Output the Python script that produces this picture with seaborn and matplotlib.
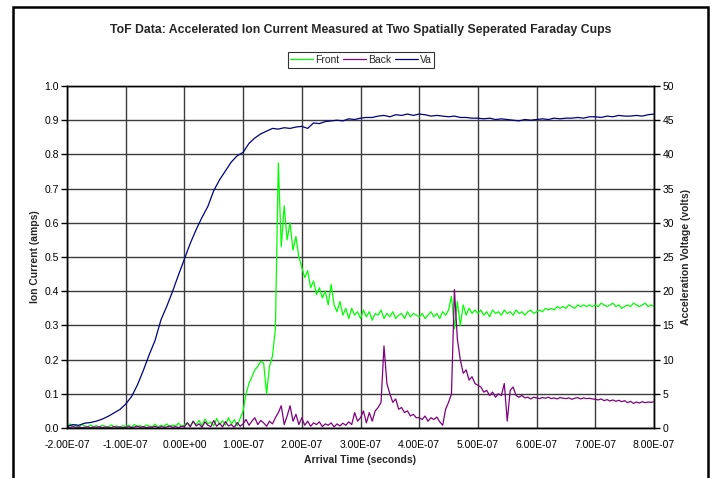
import numpy as np
import pandas as pd
import matplotlib
matplotlib.use("Agg")
import matplotlib.pyplot as plt
from matplotlib.patches import Rectangle
from matplotlib.ticker import FuncFormatter, MultipleLocator
import seaborn as sns

# ---- measured data -------------------------------------------------------
# Faraday cup currents sampled every 5 ns from -200 ns to 800 ns
cup_time_ns = np.arange(-200, 801, 5)

front_current = [
    # -200 .. -105 ns
    0.005, 0.012, 0.004, 0.008, 0.002, 0.010, 0.006, 0.003, 0.009, 0.004,
    0.007, 0.002, 0.008, 0.005, 0.003, 0.009, 0.004, 0.006, 0.002, 0.007,
    # -100 .. -5 ns
    0.004, 0.008, 0.003, 0.010, 0.005, 0.007, 0.002, 0.009, 0.006, 0.004,
    0.011, 0.003, 0.008, 0.005, 0.012, 0.004, 0.009, 0.006, 0.014, 0.005,
    # 0 .. 95 ns
    0.008, 0.016, 0.006, 0.020, 0.010, 0.022, 0.007, 0.026, 0.012, 0.018,
    0.006, 0.028, 0.010, 0.021, 0.008, 0.030, 0.012, 0.024, 0.006, 0.028,
    # 100 .. 195 ns
    0.050, 0.100, 0.130, 0.150, 0.170, 0.180, 0.195, 0.190, 0.100, 0.180,
    0.210, 0.290, 0.775, 0.530, 0.650, 0.550, 0.600, 0.520, 0.560, 0.500,
    # 200 .. 295 ns
    0.470, 0.440, 0.460, 0.410, 0.430, 0.390, 0.410, 0.380, 0.400, 0.360,
    0.420, 0.360, 0.340, 0.370, 0.330, 0.350, 0.320, 0.350, 0.330, 0.340,
    # 300 .. 395 ns
    0.320, 0.345, 0.325, 0.340, 0.315, 0.335, 0.330, 0.345, 0.320, 0.335,
    0.325, 0.340, 0.320, 0.330, 0.335, 0.320, 0.340, 0.325, 0.335, 0.330,
    # 400 .. 495 ns
    0.325, 0.335, 0.320, 0.330, 0.340, 0.325, 0.335, 0.320, 0.340, 0.330,
    0.345, 0.385, 0.290, 0.370, 0.300, 0.360, 0.330, 0.350, 0.335, 0.345,
    # 500 .. 595 ns
    0.335, 0.345, 0.330, 0.340, 0.325, 0.345, 0.335, 0.340, 0.330, 0.345,
    0.335, 0.340, 0.330, 0.345, 0.335, 0.340, 0.330, 0.340, 0.345, 0.335,
    # 600 .. 695 ns
    0.340, 0.345, 0.340, 0.350, 0.345, 0.350, 0.345, 0.355, 0.350, 0.355,
    0.350, 0.360, 0.355, 0.350, 0.360, 0.355, 0.360, 0.355, 0.360, 0.355,
    # 700 .. 800 ns
    0.360, 0.355, 0.365, 0.360, 0.355, 0.360, 0.365, 0.355, 0.360, 0.350,
    0.355, 0.360, 0.355, 0.365, 0.360, 0.355, 0.360, 0.365, 0.355, 0.360,
    0.355,
]

back_current = [
    # -200 .. -105 ns
    0.003, 0.001, 0.004, 0.002, 0.003, 0.001, 0.002, 0.004, 0.001, 0.003,
    0.002, 0.004, 0.001, 0.003, 0.002, 0.001, 0.004, 0.002, 0.003, 0.001,
    # -100 .. -5 ns
    0.002, 0.004, 0.001, 0.003, 0.005, 0.002, 0.004, 0.001, 0.003, 0.002,
    0.005, 0.001, 0.004, 0.002, 0.003, 0.006, 0.002, 0.004, 0.001, 0.005,
    # 0 .. 95 ns
    0.004, 0.015, 0.003, 0.020, 0.006, 0.012, 0.002, 0.018, 0.008, 0.004,
    0.022, 0.005, 0.014, 0.003, 0.019, 0.006, 0.010, 0.002, 0.016, 0.005,
    # 100 .. 195 ns
    0.012, 0.025, 0.008, 0.020, 0.030, 0.010, 0.022, 0.015, 0.005, 0.020,
    0.012, 0.030, 0.045, 0.065, 0.010, 0.035, 0.065, 0.020, 0.040, 0.010,
    # 200 .. 295 ns
    0.030, 0.008, 0.020, 0.005, 0.015, 0.010, 0.018, 0.004, 0.012, 0.008,
    0.015, 0.003, 0.012, 0.006, 0.014, 0.008, 0.018, 0.010, 0.045, 0.020,
    # 300 .. 395 ns
    0.030, 0.050, 0.015, 0.045, 0.020, 0.050, 0.060, 0.075, 0.240, 0.130,
    0.100, 0.075, 0.085, 0.055, 0.060, 0.045, 0.050, 0.035, 0.040, 0.030,
    # 400 .. 495 ns
    0.030, 0.025, 0.035, 0.020, 0.030, 0.025, 0.032, 0.018, 0.008, 0.055,
    0.075, 0.100, 0.405, 0.260, 0.200, 0.160, 0.170, 0.140, 0.150, 0.130,
    # 500 .. 595 ns
    0.125, 0.120, 0.105, 0.110, 0.095, 0.105, 0.090, 0.100, 0.095, 0.130,
    0.020, 0.110, 0.120, 0.095, 0.090, 0.095, 0.088, 0.090, 0.085, 0.090,
    # 600 .. 695 ns
    0.088, 0.086, 0.089, 0.087, 0.090, 0.086, 0.088, 0.085, 0.089, 0.087,
    0.086, 0.088, 0.084, 0.087, 0.089, 0.085, 0.088, 0.086, 0.087, 0.085,
    # 700 .. 800 ns
    0.084, 0.082, 0.085, 0.080, 0.083, 0.079, 0.082, 0.078, 0.081, 0.077,
    0.080, 0.074, 0.078, 0.072, 0.076, 0.073, 0.077, 0.074, 0.076, 0.075,
    0.077,
]

# Acceleration voltage sampled every 10 ns from -200 ns to 800 ns
va_time_ns = np.arange(-200, 801, 10)
va_volts = [
    0.2, 0.5, 0.4, 0.7, 0.8, 1.0, 1.3, 1.7, 2.2, 2.7,            # -200 .. -110
    3.5, 4.6, 6.3, 8.4, 10.7, 12.8, 15.8, 17.8, 20.0, 22.4,      # -100 .. -10
    24.7, 27.0, 29.0, 30.8, 32.4, 34.7, 36.3, 37.6, 38.9, 39.8,  # 0 .. 90
    40.3, 41.6, 42.4, 43.0, 43.4, 43.8, 43.7, 43.9, 43.8, 44.0,  # 100 .. 190
    44.1, 43.8, 44.6, 44.5, 44.8, 44.9, 45.0, 44.9, 45.2, 45.1,  # 200 .. 290
    45.3, 45.4, 45.4, 45.6, 45.7, 45.5, 45.8, 45.7, 45.9, 45.7,  # 300 .. 390
    45.9, 45.8, 45.6, 45.7, 45.6, 45.5, 45.6, 45.4, 45.4, 45.3,  # 400 .. 490
    45.3, 45.2, 45.3, 45.1, 45.2, 45.1, 45.0, 44.9, 45.1, 45.0,  # 500 .. 590
    45.1, 45.2, 45.1, 45.3, 45.2, 45.3, 45.3, 45.4, 45.3, 45.5,  # 600 .. 690
    45.5, 45.4, 45.6, 45.5, 45.7, 45.6, 45.6, 45.7, 45.6, 45.8,  # 700 .. 790
    45.9,                                                          # 800
]

x_tick_values = [-2e-7, -1e-7, 0, 1e-7, 2e-7, 3e-7, 4e-7, 5e-7, 6e-7, 7e-7, 8e-7]

cups = pd.DataFrame({
    "time": cup_time_ns * 1e-9,
    "Front": front_current,
    "Back": back_current,
})
va = pd.DataFrame({"time": va_time_ns * 1e-9, "Va": va_volts})

# ---- styling -------------------------------------------------------------
sns.set_style("white")
plt.rcParams["font.family"] = ["Liberation Sans", "DejaVu Sans"]

FRONT_C = "#00ff00"
BACK_C = "#800080"
VA_C = "#000080"
GRID_C = "#3c3c3c"

fig = plt.figure(figsize=(7.12, 4.78), dpi=100)
W, H = 712, 478
L, R, T, B = 67, 654, 86, 428
ax = fig.add_axes([L / W, 1 - B / H, (R - L) / W, (B - T) / H])
ax2 = ax.twinx()

sns.lineplot(data=cups, x="time", y="Front", ax=ax, color=FRONT_C,
             lw=0.9, label="Front", estimator=None)
sns.lineplot(data=cups, x="time", y="Back", ax=ax, color=BACK_C,
             lw=0.9, label="Back", estimator=None)
sns.lineplot(data=va, x="time", y="Va", ax=ax2, color=VA_C,
             lw=0.9, label="Va", estimator=None)

ax.set_xlim(-2e-7, 8e-7)
ax.set_ylim(0, 1.0)
ax2.set_ylim(0, 50)

ax.set_xticks(x_tick_values)
ax.xaxis.set_major_formatter(FuncFormatter(lambda v, p: f"{v:.2E}"))
ax.yaxis.set_major_locator(MultipleLocator(0.1))
ax.yaxis.set_major_formatter(FuncFormatter(lambda v, p: f"{v:.1f}"))
ax2.yaxis.set_major_locator(MultipleLocator(5))

ax.grid(True, color=GRID_C, lw=1.0)
ax.set_axisbelow(True)
for a in (ax, ax2):
    for s in a.spines.values():
        s.set_color("black")
        s.set_linewidth(1.0)
ax.spines["top"].set_color(GRID_C)

ax.tick_params(axis="x", direction="inout", length=5, width=1, labelsize=7.5,
               pad=6, colors="black")
ax.tick_params(axis="y", direction="out", length=4, width=1, labelsize=7.5,
               pad=2, colors="black")
ax2.tick_params(axis="y", direction="out", length=4, width=1, labelsize=7.5,
                pad=2, colors="black")

lab = dict(fontsize=7.5, fontweight="bold")
ax.set_xlabel("Arrival Time (seconds)", **lab)
ax.set_ylabel("Ion Current (amps)", **lab)
ax2.set_ylabel("Acceleration Voltage (volts)", rotation=90, **lab)
ax.xaxis.set_label_coords(0.5, (B - 455) / (B - T))
ax.yaxis.set_label_coords((39.5 - L) / (R - L), 0.5)
ax2.yaxis.set_label_coords((681 - L) / (R - L), 0.5)

# legend gathered from both axes, placed above the plot
handles = ax.get_lines()[:2] + ax2.get_lines()[:1]
for a in (ax, ax2):
    if a.get_legend() is not None:
        a.get_legend().remove()
leg = fig.legend(handles, ["Front", "Back", "Va"], loc="center",
                 bbox_to_anchor=(361 / W, 1 - 60 / H), ncol=3, fontsize=7.5,
                 frameon=True, fancybox=False, edgecolor="black",
                 handlelength=2.2, handletextpad=0.2, columnspacing=0.35,
                 borderpad=0.25, borderaxespad=0)
leg.get_frame().set_linewidth(0.8)

fig.text(361 / W, 1 - 30 / H,
         "ToF Data: Accelerated Ion Current Measured at Two Spatially Seperated Faraday Cups",
         ha="center", va="center", fontsize=8.8, fontweight="bold")

# outer chart frame
fig.patches.append(Rectangle((13 / W, -0.01), (708 - 13) / W, 1.01 - 7 / H,
                             transform=fig.transFigure, fill=False,
                             edgecolor="black", lw=1.8))

fig.savefig("out.png", dpi=100)
